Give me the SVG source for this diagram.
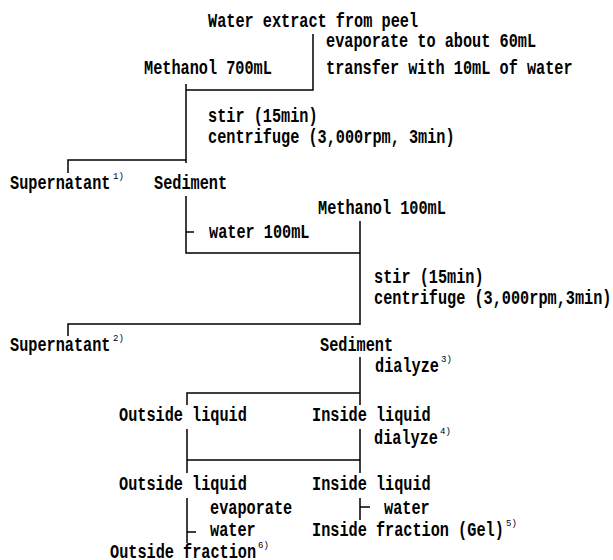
<svg xmlns="http://www.w3.org/2000/svg" width="613" height="560" viewBox="0 0 613 560">
<style>
text{font-family:"Liberation Mono","DejaVu Sans Mono",monospace;font-size:15.23px;font-weight:bold;fill:#000}
.sup{font-size:9px;font-weight:normal}
.c{fill:none;stroke:#000;stroke-width:1.5}
</style>
<rect width="613" height="560" fill="#fff"/>
<g id="connectors">
<path class="c" d="M313 34V90H186M186 84V160"/>
<path class="c" d="M68 173V160H186V163"/>
<path class="c" d="M186 196V253H360M186 232H194"/>
<path class="c" d="M360 221V325M68 336V324H360"/>
<path class="c" d="M360 357V405M187 405V393H360"/>
<path class="c" d="M187 429V473M360 429V473M187 460H360"/>
<path class="c" d="M187 498V543M187 532H196"/>
<path class="c" d="M360 498V520M360 507H370"/>
</g>
<g id="n-water-extract"><text transform="translate(208 27) scale(1 1.31)">Water extract from peel</text></g>
<g id="s-evaporate"><text transform="translate(326 47) scale(1 1.31)">evaporate to about 60mL</text>
<text transform="translate(326 74) scale(1 1.31)">transfer with 10mL of water</text></g>
<g id="n-methanol-700"><text transform="translate(144 74) scale(1 1.31)">Methanol 700mL</text></g>
<g id="s-stir-1"><text transform="translate(208 122) scale(1 1.31)">stir (15min)</text>
<text transform="translate(208 143) scale(1 1.31)">centrifuge (3,000rpm, 3min)</text></g>
<g id="n-supernatant-1"><text transform="translate(10 189) scale(1 1.31)">Supernatant</text><text class="sup" x="113" y="179">1)</text></g>
<g id="n-sediment-1"><text transform="translate(154 189) scale(1 1.31)">Sediment</text></g>
<g id="s-water-100"><text transform="translate(209 238) scale(1 1.31)">water 100mL</text></g>
<g id="n-methanol-100"><text transform="translate(318 214) scale(1 1.31)">Methanol 100mL</text></g>
<g id="s-stir-2"><text transform="translate(374 283) scale(1 1.31)">stir (15min)</text>
<text transform="translate(374 304) scale(1 1.31)">centrifuge (3,000rpm,3min)</text></g>
<g id="n-supernatant-2"><text transform="translate(10 351) scale(1 1.31)">Supernatant</text><text class="sup" x="113" y="341">2)</text></g>
<g id="n-sediment-2"><text transform="translate(320 351) scale(1 1.31)">Sediment</text></g>
<g id="s-dialyze-3"><text transform="translate(375 372) scale(1 1.31)">dialyze</text><text class="sup" x="441" y="362">3)</text></g>
<g id="n-outside-liquid-1"><text transform="translate(119 421) scale(1 1.31)">Outside liquid</text></g>
<g id="n-inside-liquid-1"><text transform="translate(312 421) scale(1 1.31)">Inside liquid</text></g>
<g id="s-dialyze-4"><text transform="translate(374 444) scale(1 1.31)">dialyze</text><text class="sup" x="440" y="434">4)</text></g>
<g id="n-outside-liquid-2"><text transform="translate(119 490) scale(1 1.31)">Outside liquid</text></g>
<g id="n-inside-liquid-2"><text transform="translate(312 490) scale(1 1.31)">Inside liquid</text></g>
<g id="s-evaporate-water"><text transform="translate(210 514) scale(1 1.31)">evaporate</text>
<text transform="translate(210 536) scale(1 1.31)">water</text></g>
<g id="s-water-right"><text transform="translate(384 514) scale(1 1.31)">water</text></g>
<g id="n-inside-fraction"><text transform="translate(312 536) scale(1 1.31)">Inside fraction (Gel)</text><text class="sup" x="506" y="526">5)</text></g>
<g id="n-outside-fraction"><text transform="translate(110 558) scale(1 1.31)">Outside fraction</text><text class="sup" x="258" y="548">6)</text></g>
</svg>
